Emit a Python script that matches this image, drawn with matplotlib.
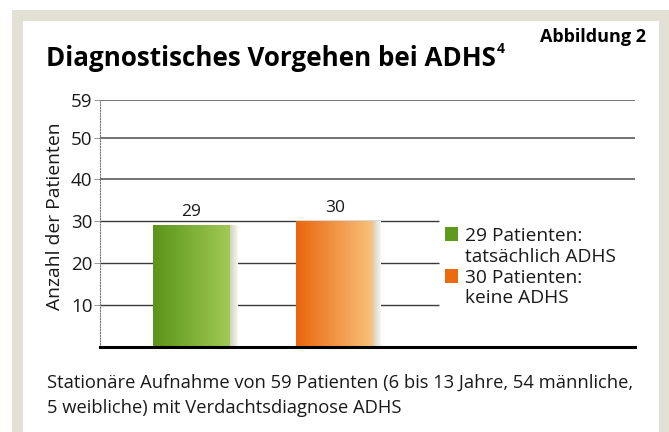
import matplotlib
matplotlib.use("Agg")
import matplotlib.pyplot as plt
import numpy as np
from matplotlib.colors import LinearSegmentedColormap
from matplotlib.patches import Rectangle, Patch

plt.rcParams['font.family'] = ['Open Sans', 'DejaVu Sans']

# data
categories = ["tatsächlich ADHS", "keine ADHS"]
values = [29, 30]
bar_labels = ["29", "30"]
legend_heads = ["29 Patienten:", "30 Patienten:"]
legend_tails = ["tatsächlich ADHS", "keine ADHS"]
yticks = [10, 20, 30, 40, 50, 59]
grid_full = [40, 50, 59]
grid_short = [10, 20, 30]

title = "Diagnostisches Vorgehen bei ADHS"
caption = ("Stationäre Aufnahme von 59 Patienten (6 bis 13 Jahre, 54 männliche,\n"
           "5 weibliche) mit Verdachtsdiagnose ADHS")

bar_colors = [("#5a9418", "#a2ca56"), ("#ea660e", "#fac37e")]
solid_colors = ["#5f9a1f", "#ec6a10"]
shade_colors = ("#d3d0bd", "#f7f6f0")
frame_color = "#e3e1d3"

W, H = 669, 432
fig = plt.figure(figsize=(W / 100, H / 100), dpi=100)
fig.patch.set_facecolor("white")

# beige frame and white panel
fig.patches.append(Rectangle((12 / W, 0), 1, 1 - 10 / H, transform=fig.transFigure,
                             facecolor=frame_color, edgecolor="none", zorder=-2))
fig.patches.append(Rectangle((23 / W, 0), (659 - 23) / W, 1 - 21 / H, transform=fig.transFigure,
                             facecolor="white", edgecolor="none", zorder=-1))

ax = fig.add_axes([100 / W, (H - 346.7) / H, 535 / W, (346.7 - 100) / H])
ax.patch.set_alpha(0)

x = np.arange(len(values))
width = 0.54
shade_w = 0.052

# grid lines
ax.hlines(grid_full, -0.64, 3.1, color="#5a5a5a", lw=1.2, zorder=1)
ax.hlines(grid_short, -0.64, 1.728, color="#3a3a3a", lw=1.0, zorder=1)

bars = ax.bar(x, values, width, color="none", zorder=2)
shades = ax.bar(x + width / 2, values, shade_w, align="edge", color="none", zorder=2)

def gradient(patch, c0, c1, z):
    cmap = LinearSegmentedColormap.from_list("g", [c0, c1])
    grad = np.linspace(0, 1, 256).reshape(1, -1)
    x0, y0 = patch.get_x(), patch.get_y()
    im = ax.imshow(grad, cmap=cmap, aspect="auto", zorder=z,
                   extent=[x0, x0 + patch.get_width(), y0, y0 + patch.get_height()])
    im.set_clip_path(patch)

for b, s, (c0, c1), lab in zip(bars, shades, bar_colors, bar_labels):
    gradient(b, c0, c1, 3)
    gradient(s, shade_colors[0], shade_colors[1], 3)
    ax.annotate(lab, (b.get_x() + b.get_width() / 2, b.get_height()),
                xytext=(0, 4), textcoords="offset points", ha="center", va="bottom",
                fontsize=12.5, color="#1a1a1a")

ax.set_xlim(-0.638, 3.096)
ax.set_ylim(0, 59)

for side in ["top", "right"]:
    ax.spines[side].set_visible(False)
ax.spines["bottom"].set_color("black")
ax.spines["bottom"].set_linewidth(2.2)
ax.spines["bottom"].set_zorder(5)
ax.spines["left"].set_color("#777777")
ax.spines["left"].set_linestyle((0, (1, 1.5)))
ax.spines["left"].set_linewidth(0.8)

ax.set_xticks([])
ax.set_yticks(yticks)
ax.set_yticklabels([str(t) for t in yticks], fontsize=13.5, color="#1a1a1a")
ax.tick_params(axis="y", length=4, width=0.6, color="#888888", pad=1.5)
ax.set_ylabel("Anzahl der Patienten", fontsize=13.9, color="#1a1a1a", va="center")
ax.yaxis.set_label_coords(-0.084, 0.528)

# legend: square beside the first line of each entry
handles, labels = [], []
for c, head, tail in zip(solid_colors, legend_heads, legend_tails):
    handles += [Patch(facecolor=c, edgecolor="none"), Patch(facecolor="none", edgecolor="none")]
    labels += [head, tail]
leg = ax.legend(handles, labels, loc="upper left", bbox_to_anchor=(0.645, 0.486),
                frameon=False, fontsize=13.8, handlelength=0.7, handleheight=0.7,
                handletextpad=0.35, labelspacing=0.15, borderaxespad=0, borderpad=0)
for t in leg.get_texts():
    t.set_color("#1a1a1a")

t = fig.text(46 / W, 1 - 66 / H, title, fontsize=18.7, fontweight="bold",
             ha="left", va="baseline", color="black")
ax.annotate("4", xy=(1, 1), xycoords=t, xytext=(0.5, 2), textcoords="offset points",
            ha="left", va="top", fontsize=10, fontweight="bold")
fig.text(646 / W, 1 - 37 / H, "Abbildung 2", fontsize=13, fontweight="bold",
         ha="right", va="center", color="black")
fig.text(47 / W, 1 - 395 / H, caption, fontsize=13.2, ha="left", va="center",
         linespacing=1.53, color="#1a1a1a")

fig.savefig("out.png", dpi=100)
